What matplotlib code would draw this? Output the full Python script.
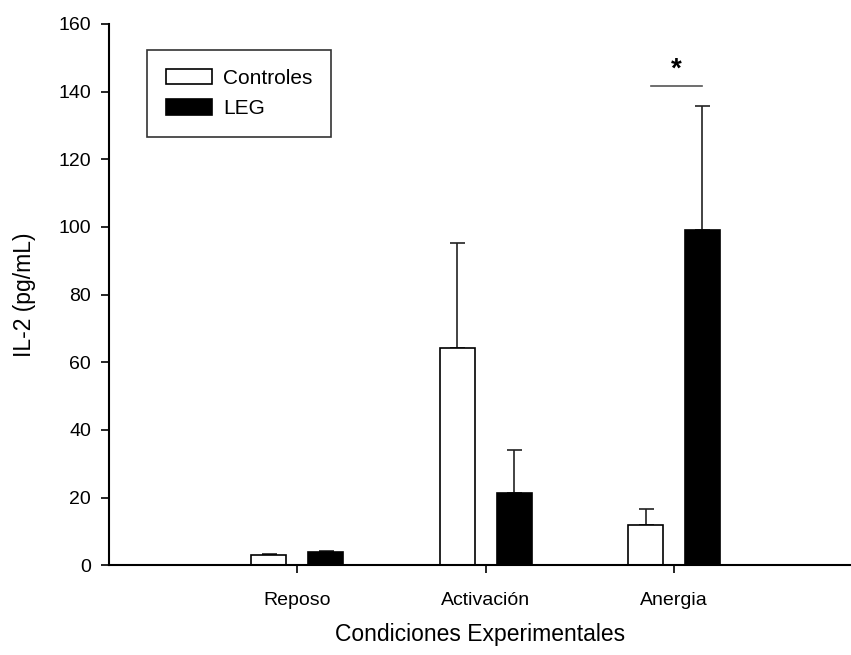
import matplotlib.pyplot as plt
from matplotlib.patches import Patch

plt.rcParams['font.family'] = ['Liberation Sans', 'DejaVu Sans']

# datos
categorias = ['Reposo', 'Activación', 'Anergia']
controles = [3.2, 64.3, 11.8]
controles_err = [0.2, 31.0, 4.9]
leg = [3.8, 21.5, 99.0]
leg_err = [0.5, 12.5, 36.8]

x = [1, 2, 3]
ancho = 0.186
desp = 0.151

fig = plt.figure(figsize=(8.51, 6.55), dpi=100)
ax = fig.add_axes([0.1281, 0.1369, 0.8719, 0.8265])

xc = [i - desp for i in x]
xl = [i + desp for i in x]
ax.bar(xc, controles, ancho, color='white', edgecolor='black', linewidth=1.2, zorder=2)
ax.bar(xl, leg, ancho, color='black', edgecolor='black', linewidth=1.2, zorder=2)

ax.errorbar(xc, controles, yerr=[[0] * 3, controles_err], fmt='none', ecolor='#222222',
            elinewidth=1.2, capsize=5.4, capthick=1.2, zorder=1)
ax.errorbar(xl, leg, yerr=[[0] * 3, leg_err], fmt='none', ecolor='#222222',
            elinewidth=1.2, capsize=5.4, capthick=1.2, zorder=1)

# significancia
ax.plot([2.878, 3.147], [141.8, 141.8], color='#555555', linewidth=1.2)
ax.text(3.01, 142.6, '*', ha='center', va='bottom', fontsize=20, fontweight='bold')

ax.set_xlim(0, 3.94)
ax.set_ylim(0, 160)
ax.set_yticks(range(0, 161, 20))
ax.set_xticks(x)
ax.set_xticklabels(categorias)
ax.tick_params(axis='both', direction='out', length=6, width=1.2, labelsize=14, pad=7)
ax.tick_params(axis='x', pad=13)

for s in ['top', 'right']:
    ax.spines[s].set_visible(False)
for s in ['left', 'bottom']:
    ax.spines[s].set_linewidth(1.5)

ax.set_xlabel('Condiciones Experimentales', fontsize=16.5, labelpad=10)
ax.set_ylabel('IL-2 (pg/mL)', fontsize=16.5, labelpad=16)

handles = [Patch(facecolor='white', edgecolor='black', linewidth=1.2),
           Patch(facecolor='black', edgecolor='black', linewidth=1.2)]
lg = ax.legend(handles, ['Controles', 'LEG'], loc='upper left',
               bbox_to_anchor=(0.1727, 0.9237), bbox_transform=fig.transFigure,
               borderaxespad=0, fancybox=False, edgecolor='black', fontsize=15,
               handlelength=2.2, handleheight=0.75, labelspacing=0.55,
               handletextpad=0.55, borderpad=0.9)
lg.get_frame().set_linewidth(1.2)

fig.savefig('out.png', dpi=100)
